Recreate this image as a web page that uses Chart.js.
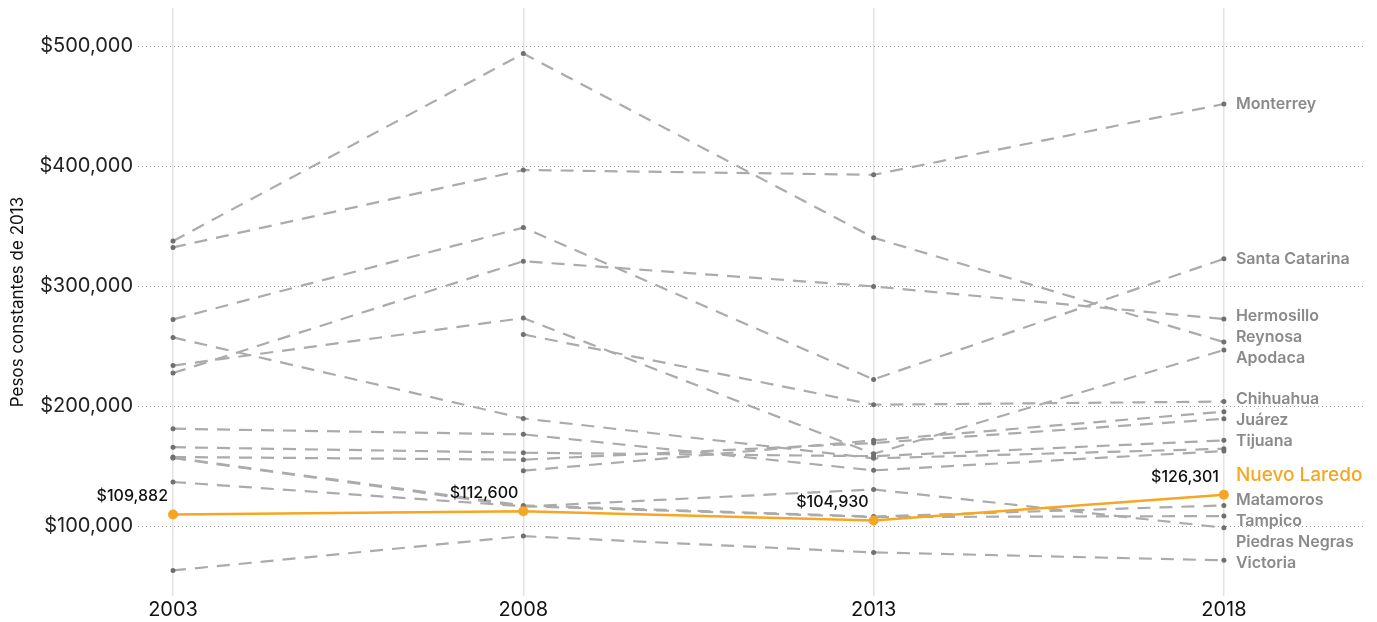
<!DOCTYPE html>
<html>
<head>
<meta charset="utf-8">
<script src="https://cdn.jsdelivr.net/npm/chart.js@4/dist/chart.umd.min.js"></script>
<style>
  html, body { margin: 0; padding: 0; background: #ffffff; }
  #wrap { width: 1377px; height: 622px; }
</style>
</head>
<body>
<div id="wrap"><canvas id="c" width="1377" height="622"></canvas></div>
<script>
// ---- data ----
const years = [2003, 2008, 2013, 2018];
const yTickValues = [100000, 200000, 300000, 400000, 500000];

const nuevoLaredo   = [109882, 112600, 104930, 126301];
const monterrey     = [332500, 397000, 393000, 452000];
const reynosa       = [337800, 494000, 340600, 253600];
const santaCatarina = [272500, 349000, 222500, 323000];
const hermosillo    = [227800, 321000, 300000, 272800];
const apodaca       = [234000, 273600, 160500, 247000];
const chihuahua     = [null,   260000, 201400, 204000];
const metroA        = [null,   146400, 171700, 195600];
const juarez        = [157800, 155600, 169500, 189700];
const tijuana       = [166000, 161400, 158500, 171700];
const metroB        = [257500, 190000, 156700, 164700];
const metroC        = [181400, 176700, 146700, 162800];
const matamoros     = [157300, 117500, 108200, 117500];
const tampico       = [137000, 116800, 107800, 108600];
const piedrasNegras = [157000, 116500, 130800, 98900];
const victoria      = [63300,  91900,  78300,  71700];

const grayNames  = ['Monterrey', 'Reynosa', 'Santa Catarina', 'Hermosillo', 'Apodaca', 'Chihuahua', '', 'Juárez', 'Tijuana', '', '', 'Matamoros', 'Tampico', 'Piedras Negras', 'Victoria'];
const grayValues = [monterrey, reynosa, santaCatarina, hermosillo, apodaca, chihuahua, metroA, juarez, tijuana, metroB, metroC, matamoros, tampico, piedrasNegras, victoria];
const highlightName = 'Nuevo Laredo';

// ---- styles ----
const ORANGE = '#f6a623';
const GRAY_LINE = '#ababab';
const GRAY_POINT = '#707070';
const GRAY_TEXT = '#8a8a8a';
const FONT = 'Inter, "Noto Sans", sans-serif';

const toXY = vals => years.map((yr, i) => ({ x: yr, y: vals[i] }));

const datasets = [{
  label: highlightName,
  data: toXY(nuevoLaredo),
  borderColor: ORANGE,
  backgroundColor: ORANGE,
  borderWidth: 2.5,
  pointRadius: 5,
  pointBackgroundColor: ORANGE,
  pointBorderWidth: 0,
  order: 0
}];
grayValues.forEach((vals, i) => {
  datasets.push({
    label: grayNames[i] || ('serie' + i),
    data: toXY(vals),
    borderColor: GRAY_LINE,
    borderWidth: 2.2,
    borderDash: [13, 9],
    pointRadius: 2.5,
    pointBackgroundColor: GRAY_POINT,
    pointBorderWidth: 0,
    spanGaps: false,
    order: 1
  });
});

function dodge(items) {
  items.sort((a, b) => a.y - b.y);
  const groups = items.map(it => ({ items: [it] }));
  function layout(g) {
    let off = 0; const offs = [];
    g.items.forEach((it, i) => { if (i > 0) off += (g.items[i - 1].h + it.h) / 2; offs.push(off); });
    const mean = g.items.reduce((s, it, i) => s + it.y - offs[i], 0) / g.items.length;
    g.top = mean; g.offs = offs;
    g.start = mean - g.items[0].h / 2;
    g.end = mean + off + g.items[g.items.length - 1].h / 2;
  }
  groups.forEach(layout);
  let merged = true;
  while (merged) {
    merged = false;
    for (let i = 0; i < groups.length - 1; i++) {
      if (groups[i].end > groups[i + 1].start) {
        groups[i].items = groups[i].items.concat(groups[i + 1].items);
        groups.splice(i + 1, 1);
        layout(groups[i]);
        merged = true;
        break;
      }
    }
  }
  groups.forEach(g => g.items.forEach((it, i) => { it.ly = g.top + g.offs[i]; }));
  return items;
}

const labelPlugin = {
  id: 'labels',
  afterDatasetsDraw(chart) {
    const ctx = chart.ctx;
    const xs = chart.scales.x, ys = chart.scales.y;
    const lastYear = years[years.length - 1];
    const lx = xs.getPixelForValue(lastYear) + 12;
    const items = [];
    grayNames.forEach((n, i) => {
      if (!n) return;
      const v = grayValues[i][grayValues[i].length - 1];
      items.push({ name: n, y: ys.getPixelForValue(v), h: 21, hl: false });
    });
    items.push({ name: highlightName, y: ys.getPixelForValue(nuevoLaredo[nuevoLaredo.length - 1]), h: 29, hl: true });
    dodge(items);
    ctx.save();
    ctx.textBaseline = 'middle';
    ctx.textAlign = 'left';
    items.forEach(it => {
      if (it.hl) { ctx.font = '500 19px ' + FONT; ctx.fillStyle = ORANGE; }
      else { ctx.font = '600 16px ' + FONT; ctx.fillStyle = GRAY_TEXT; }
      ctx.fillText(it.name, lx, it.ly);
    });
    // value labels for highlighted series
    ctx.font = '500 16px ' + FONT;
    ctx.fillStyle = '#111111';
    ctx.textAlign = 'right';
    years.forEach((yr, i) => {
      const px = xs.getPixelForValue(yr), py = ys.getPixelForValue(nuevoLaredo[i]);
      ctx.fillText('$' + nuevoLaredo[i].toLocaleString('en-US'), px - 5, py - 18);
    });
    ctx.restore();
  }
};

new Chart(document.getElementById('c'), {
  type: 'line',
  data: { datasets },
  options: {
    responsive: false,
    devicePixelRatio: 1,
    animation: false,
    layout: { padding: { top: 8, right: 13, left: 0, bottom: 0 } },
    plugins: { legend: { display: false }, tooltip: { enabled: false } },
    scales: {
      x: {
        type: 'linear',
        min: 2002.5,
        max: 2020,
        afterBuildTicks: s => { s.ticks = years.map(v => ({ value: v })); },
        afterFit: s => { s.height = 26; s.paddingLeft = 0; s.paddingRight = 0; },
        ticks: {
          callback: v => String(v),
          font: { family: FONT, size: 20 },
          color: '#111111',
          padding: 2,
          autoSkip: false,
          maxRotation: 0
        },
        grid: { color: '#e3e3e3', lineWidth: 1.5, drawTicks: false },
        border: { display: false }
      },
      y: {
        min: 42000,
        max: 532000,
        afterBuildTicks: s => { s.ticks = yTickValues.map(v => ({ value: v })); },
        afterFit: s => { s.width = 138; s.paddingTop = 0; s.paddingBottom = 0; },
        ticks: {
          callback: v => '$' + Number(v).toLocaleString('en-US'),
          font: { family: FONT, size: 20 },
          color: '#222222',
          padding: 5
        },
        grid: { color: '#9a9a9a', lineWidth: 1, drawTicks: false },
        border: { display: false, dash: [1, 3] },
        title: {
          display: true,
          text: 'Pesos constantes de 2013',
          font: { family: FONT, size: 17 },
          color: '#111111',
          padding: { top: 8, bottom: 0 }
        }
      }
    }
  },
  plugins: [labelPlugin]
});
</script>
</body>
</html>
